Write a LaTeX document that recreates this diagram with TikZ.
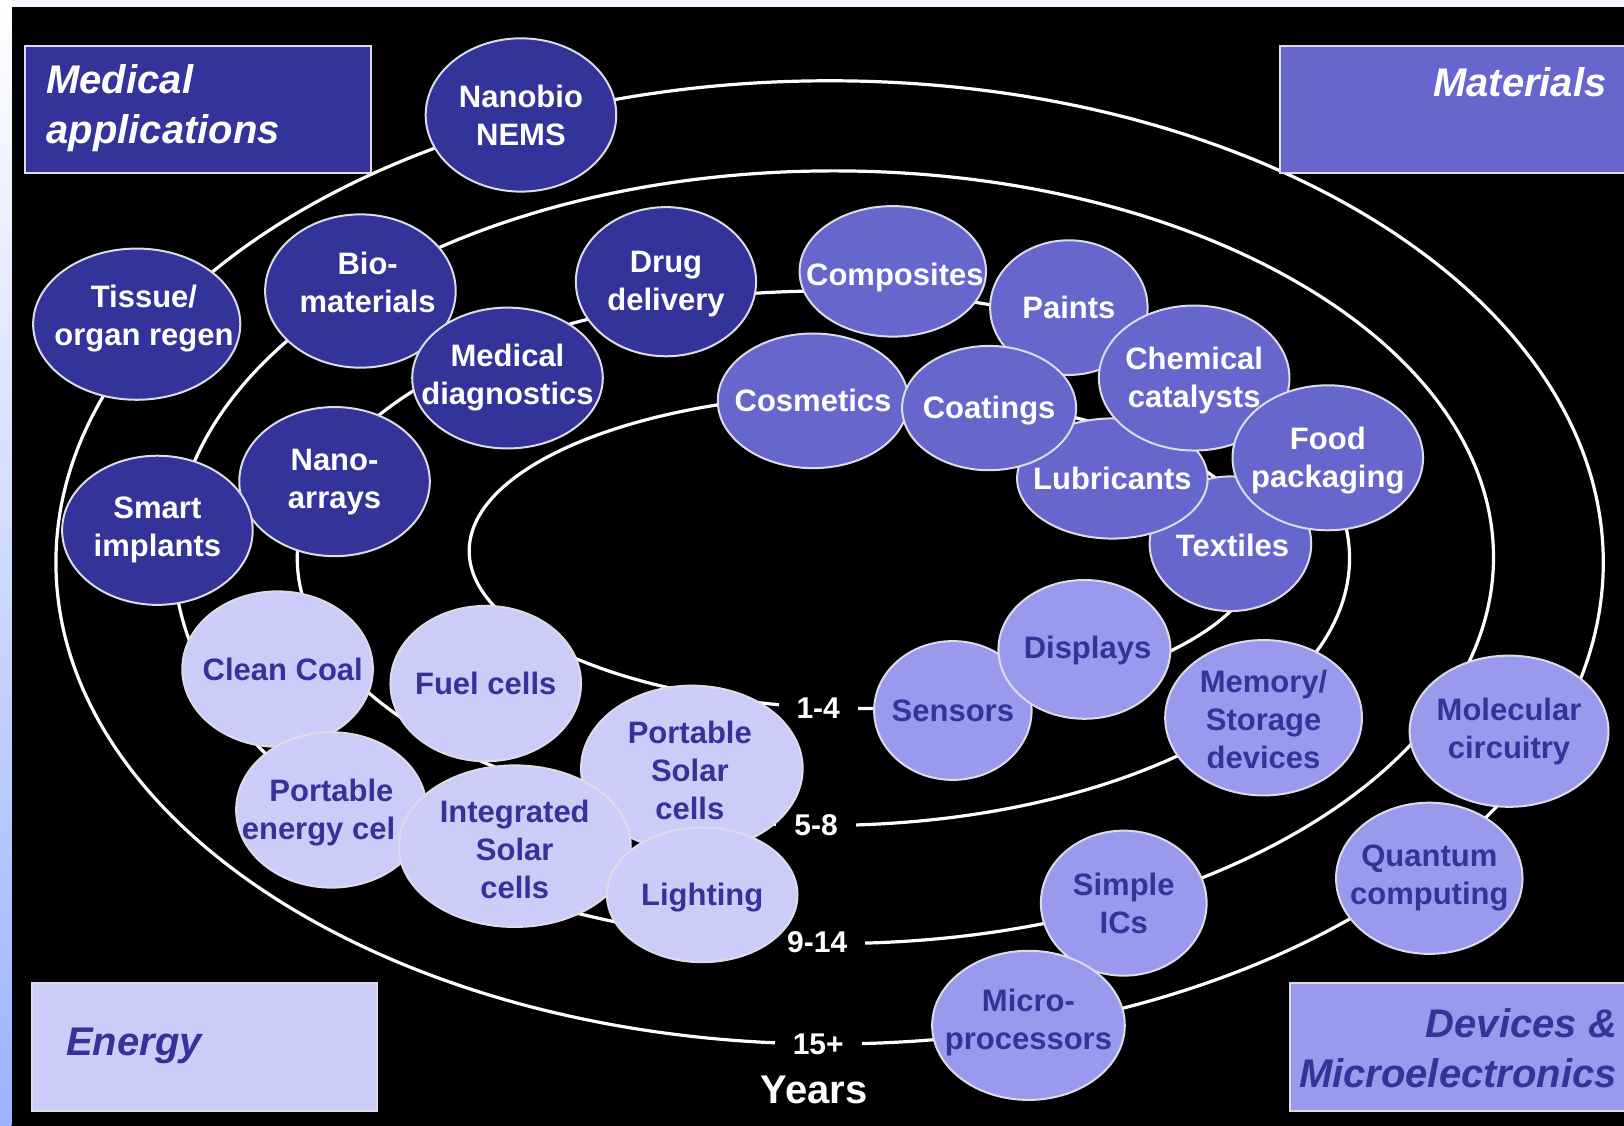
\documentclass[tikz,border=0pt]{standalone}
\usepackage{fontspec}
\setmainfont{Liberation Sans}
\usepackage{tikz}
\usetikzlibrary{shapes.geometric}

\definecolor{medblue}{HTML}{333399}
\definecolor{matblue}{HTML}{6666CC}
\definecolor{devblue}{HTML}{9999EE}
\definecolor{enblue}{HTML}{CCCCF8}
\definecolor{rim}{HTML}{DCDCE8}
\definecolor{stripblue}{HTML}{9CB4FF}

\newcommand{\pu}{0.5179pt}
\newcommand{\bubfont}{\fontsize{15.5}{19}\selectfont\bfseries}
\newcommand{\boxfont}{\fontsize{20}{25}\selectfont\bfseries\itshape}

\tikzset{
  ring/.style={draw=white, line width=1.6pt},
  years/.style={fill=black, text=white, inner xsep=9pt, inner ysep=1pt, font=\fontsize{15}{18}\selectfont\bfseries},
  panel/.style={rectangle, draw=rim, line width=1pt, anchor=north west, inner sep=0pt},
  bub/.style n args={3}{ellipse, draw=rim, line width=1pt, fill=#1, minimum width=#2*\pu, minimum height=#3*\pu, inner sep=0pt},
  wtxt/.style={font=\bubfont, align=center, text=white, inner sep=0pt},
  btxt/.style={font=\bubfont, align=center, text=medblue, inner sep=0pt},
}

\begin{document}
\begin{tikzpicture}[x=\pu, y=-\pu]
\clip (0, 0) rectangle (1568, 1087);
\fill[black] (0, 0) rectangle (1568, 1087);
\fill[white!96!blue] (0, 0) rectangle (1568, 7);
\shade[top color=white, bottom color=stripblue] (0, 0) rectangle (11, 1087);

% time rings
\draw[ring] (835, 532) ellipse [x radius=382, y radius=152];
\draw[ring] (795, 539) ellipse [x radius=508, y radius=258];
\draw[ring] (805, 538) ellipse [x radius=637, y radius=373];
\draw[ring] (801, 543) ellipse [x radius=747, y radius=465];

\node[years] (y1) at (790, 684) {1-4};
\node[years] (y2) at (788, 797) {5-8};
\node[years] (y3) at (789, 910) {9-14};
\node[years] (y4) at (790, 1008) {15+};
\node[text=white, font=\fontsize{20}{24}\selectfont\bfseries] (yrs) at (786, 1052) {Years};

% corner panels
\node[panel, fill=medblue, minimum width=334*\pu, minimum height=123*\pu] (medbox) at (23, 43) {};
\node[font=\boxfont, text=white, align=left, anchor=west] (medlbl) at (38, 104) {Medical\\applications};
\node[panel, fill=matblue, minimum width=345*\pu, minimum height=123*\pu] (matbox) at (1235, 43) {};
\node[font=\boxfont, text=white, anchor=east] (matlbl) at (1558, 79) {Materials};
\node[panel, fill=enblue, minimum width=333*\pu, minimum height=124*\pu] (enbox) at (30, 948) {};
\node[font=\boxfont, text=medblue, anchor=west] (enlbl) at (57, 1010) {Energy};
\node[panel, fill=devblue, minimum width=335*\pu, minimum height=124*\pu] (devbox) at (1245, 948) {};
\node[font=\boxfont, text=medblue, align=right, anchor=east] (devlbl) at (1568, 1012) {Devices \&\hspace{6pt}\\Microelectronics};

% medical
\node[bub={medblue}{184}{148}] (nanobio) at (503, 111) {};
\node[wtxt] (nanobio-t) at (nanobio) {Nanobio\\NEMS};
\node[bub={medblue}{200}{146}] (tissue) at (132, 313) {};
\node[wtxt] (tissue-t) at (139, 308) {Tissue/\\organ regen};
\node[bub={medblue}{184}{148}] (biomat) at (348, 281) {};
\node[wtxt] (biomat-t) at (355, 273) {Bio-\\materials};
\node[bub={medblue}{174}{144}] (drug) at (643, 272) {};
\node[wtxt] (drug-t) at (643, 274) {Drug\\delivery};
\node[bub={medblue}{184}{136}] (meddiag) at (490, 365) {};
\node[wtxt] (meddiag-t) at (meddiag) {Medical\\diagnostics};
\node[bub={medblue}{184}{144}] (nanoarr) at (323, 465) {};
\node[wtxt] (nanoarr-t) at (nanoarr) {Nano-\\arrays};
\node[bub={medblue}{184}{144}] (smart) at (152, 512) {};
\node[wtxt] (smart-t) at (smart) {Smart\\implants};

% materials
\node[bub={matblue}{156}{130}] (textiles) at (1188, 525) {};
\node[wtxt] (textiles-t) at (1190, 527) {Textiles};
\node[bub={matblue}{180}{126}] (composites) at (862, 262) {};
\node[wtxt] (composites-t) at (864, 268) {Composites};
\node[bub={matblue}{152}{130}] (paints) at (1032, 297) {};
\node[wtxt] (paints-t) at (paints) {Paints};
\node[bub={matblue}{184}{116}] (lubricants) at (1074, 462) {};
\node[wtxt] (lubricants-t) at (lubricants) {Lubricants};
\node[bub={matblue}{184}{130}] (cosmetics) at (785, 387) {};
\node[wtxt] (cosmetics-t) at (cosmetics) {Cosmetics};
\node[bub={matblue}{168}{120}] (coatings) at (955, 394) {};
\node[wtxt] (coatings-t) at (955, 396) {Coatings};
\node[bub={matblue}{184}{140}] (chemical) at (1153, 365) {};
\node[wtxt] (chemical-t) at (1153, 367) {Chemical\\catalysts};
\node[bub={matblue}{184}{140}] (food) at (1282, 442) {};
\node[wtxt] (food-t) at (1282, 445) {Food\\packaging};

% energy
\node[bub={enblue}{184}{150}] (coal) at (268, 646) {};
\node[btxt] (coal-t) at (273, 646) {Clean Coal};
\node[bub={enblue}{184}{150}] (fuel) at (469, 660) {};
\node[btxt] (fuel-t) at (fuel) {Fuel cells};
\node[bub={enblue}{184}{150}] (portenergy) at (320, 782) {};
\node[btxt] (portenergy-t) at (320, 785) {Portable\\energy cel\phantom{ls}};
\node[bub={enblue}{214}{160}] (portsolar) at (668, 742) {};
\node[btxt] (portsolar-t) at (666, 744) {Portable\\Solar\\cells};
\node[bub={enblue}{224}{156}] (integrated) at (497, 817) {};
\node[btxt] (integrated-t) at (497, 820) {Integrated\\Solar\\cells};
\node[bub={enblue}{184}{130}] (lighting) at (678, 864) {};
\node[btxt] (lighting-t) at (678, 867) {Lighting};

% devices
\node[bub={devblue}{152}{134}] (sensors) at (920, 686) {};
\node[btxt] (sensors-t) at (sensors) {Sensors};
\node[bub={devblue}{166}{134}] (displays) at (1047, 627) {};
\node[btxt] (displays-t) at (1050, 628) {Displays};
\node[bub={devblue}{190}{150}] (memory) at (1220, 693) {};
\node[btxt] (memory-t) at (1220, 695) {Memory/\\Storage\\devices};
\node[bub={devblue}{192}{146}] (molecular) at (1457, 706) {};
\node[btxt] (molecular-t) at (molecular) {Molecular\\circuitry};
\node[bub={devblue}{180}{146}] (quantum) at (1380, 848) {};
\node[btxt] (quantum-t) at (quantum) {Quantum\\computing};
\node[bub={devblue}{160}{140}] (simple) at (1085, 872) {};
\node[btxt] (simple-t) at (simple) {Simple\\ICs};
\node[bub={devblue}{186}{144}] (micro) at (993, 990) {};
\node[btxt] (micro-t) at (993, 987) {Micro-\\processors};
\end{tikzpicture}
\end{document}
